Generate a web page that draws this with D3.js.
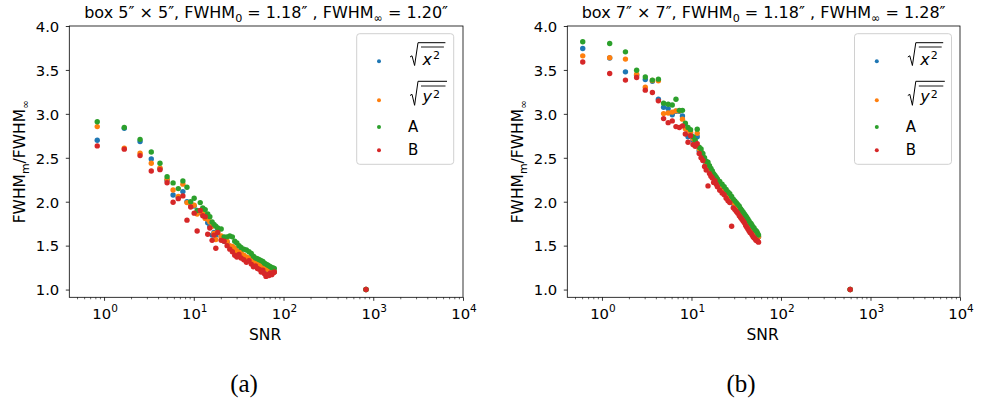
<!DOCTYPE html>
<html><head><meta charset="utf-8">
<script src="https://cdn.jsdelivr.net/npm/d3@7"></script>
<style>body{margin:0;background:#fff} svg text{font-family:"DejaVu Sans",sans-serif}</style>
</head><body><svg id="c" width="981" height="405"></svg>
<script>
// ---------- data ----------
const seriesLabels = ["x2", "y2", "A", "B"];
const seriesColors = ["#1f77b4", "#ff7f0e", "#2ca02c", "#d62728"];
const yTickValues = [1.0, 1.5, 2.0, 2.5, 3.0, 3.5, 4.0];
const xMajorTicks = [1, 10, 100, 1000, 10000];
const xTickExponents = ["0", "1", "2", "3", "4"];

// panel (a): box 5" x 5"
const snrA = [0.84,1.68,2.52,3.36,4.2,5.04,5.88,6.72,7.56,8.4,9.24,10.1,10.9,11.8,12.6,13.4,14.3,15.1,16.0,16.8,17.6,18.5,20.2,21.8,23.5,25.2,26.9,28.6,30.2,31.9,33.6,36.1,38.6,41.2,43.7,46.2,48.7,51.2,53.8,56.3,58.8,61.3,63.8,66.4,68.9,71.4,73.9,76.4,78.9,830];
const rmsXA = [2.70,2.835,2.685,2.487,2.375,2.245,2.077,2.05,2.115,2.0,1.97,1.95,1.87,1.88,1.86,1.85,1.76,1.72,1.62,1.65,1.62,1.68,1.60,1.55,1.54,1.49,1.48,1.46,1.44,1.42,1.41,1.38,1.36,1.35,1.33,1.31,1.30,1.29,1.27,1.26,1.25,1.24,1.23,1.23,1.22,1.21,1.21,1.20,1.20,1.0];
const rmsYA = [2.855,2.61,2.552,2.438,2.385,2.255,2.134,2.06,2.20,1.99,1.98,1.96,1.86,1.89,1.87,1.81,1.80,1.77,1.72,1.64,1.57,1.66,1.61,1.56,1.55,1.50,1.49,1.47,1.44,1.43,1.42,1.39,1.37,1.36,1.34,1.32,1.30,1.29,1.28,1.27,1.26,1.25,1.24,1.23,1.23,1.22,1.21,1.21,1.20,1.0];
const fitAA = [2.91,2.845,2.71,2.565,2.438,2.285,2.214,2.149,2.237,2.165,2.00,2.04,1.90,1.99,1.93,1.91,1.86,1.83,1.77,1.74,1.72,1.70,1.69,1.60,1.60,1.61,1.60,1.55,1.53,1.50,1.48,1.46,1.45,1.43,1.41,1.38,1.36,1.35,1.34,1.33,1.32,1.30,1.29,1.28,1.27,1.26,1.25,1.245,1.24,1.0];
const fitBA = [2.635,2.598,2.525,2.35,2.365,2.215,1.994,2.035,2.066,1.79,1.94,1.87,1.667,1.90,1.84,1.83,1.63,1.70,1.56,1.62,1.47,1.65,1.56,1.55,1.50,1.46,1.43,1.39,1.37,1.40,1.36,1.34,1.31,1.33,1.29,1.26,1.27,1.24,1.23,1.20,1.22,1.18,1.15,1.17,1.16,1.19,1.17,1.19,1.20,1.0];

// panel (b): box 7" x 7"
const snrB = [0.61,1.22,1.83,2.44,3.05,3.66,4.27,4.88,5.49,6.1,6.71,7.32,7.93,8.54,9.15,9.76,10.4,11.0,11.6,12.2,12.8,13.4,14.0,14.6,15.3,15.9,16.5,17.1,17.7,18.3,18.9,19.5,20.7,22.0,23.2,24.4,25.6,26.8,28.1,29.3,30.5,31.7,32.9,34.2,35.4,36.6,37.8,39.0,40.3,41.5,42.7,43.9,45.1,46.4,47.6,48.8,50.0,51.2,52.5,53.7,54.9,56.1,593];
const rmsXB = [3.744,3.635,3.478,3.44,3.39,3.37,3.167,3.076,3.06,2.99,3.03,3.03,2.977,2.86,2.74,2.78,2.70,2.66,2.74,2.58,2.56,2.50,2.46,2.42,2.38,2.37,2.33,2.30,2.28,2.26,2.24,2.22,2.19,2.15,2.12,2.09,2.06,2.04,2.01,1.98,1.96,1.94,1.92,1.90,1.88,1.86,1.84,1.82,1.80,1.78,1.76,1.74,1.72,1.71,1.69,1.68,1.66,1.65,1.63,1.62,1.61,1.60,1.0];
const rmsYB = [3.66,3.64,3.623,3.452,3.304,3.38,3.376,3.003,3.01,3.02,3.034,3.034,2.94,2.83,2.82,2.79,2.72,2.68,2.78,2.60,2.57,2.52,2.47,2.43,2.40,2.38,2.34,2.31,2.29,2.27,2.25,2.23,2.20,2.16,2.14,2.10,2.08,2.05,2.02,1.99,1.97,1.95,1.93,1.91,1.89,1.87,1.85,1.83,1.81,1.79,1.77,1.75,1.73,1.72,1.70,1.69,1.67,1.66,1.64,1.63,1.62,1.60,1.0];
const fitAB = [3.82,3.80,3.706,3.497,3.42,3.384,3.395,3.122,3.11,3.10,3.167,3.04,3.04,2.894,2.844,2.82,2.74,2.70,2.826,2.62,2.60,2.55,2.50,2.46,2.45,2.41,2.38,2.35,2.32,2.30,2.28,2.26,2.23,2.20,2.17,2.14,2.11,2.09,2.06,2.03,2.01,1.99,1.97,1.95,1.92,1.90,1.88,1.86,1.84,1.82,1.80,1.78,1.76,1.75,1.73,1.71,1.70,1.68,1.67,1.66,1.64,1.62,1.0];
const fitBB = [3.59,3.46,3.384,3.414,3.27,3.243,3.148,2.946,2.90,2.92,2.855,2.844,2.863,2.77,2.677,2.75,2.65,2.63,2.66,2.55,2.50,2.47,2.40,2.36,2.18,2.32,2.29,2.27,2.22,2.24,2.20,2.17,2.13,2.10,2.08,2.04,2.01,1.99,1.72,1.93,1.91,1.89,1.87,1.84,1.82,1.80,1.78,1.76,1.73,1.71,1.69,1.67,1.65,1.64,1.62,1.60,1.59,1.58,1.56,1.56,1.55,1.54,1.0];

const titleA = [["box 5″ × 5″, FWHM","n"],["0","sub"],[" = 1.18″ , FWHM","n"],["∞","sub"],[" = 1.20″","n"]];
const titleB = [["box 7″ × 7″, FWHM","n"],["0","sub"],[" = 1.18″ , FWHM","n"],["∞","sub"],[" = 1.28″","n"]];
const yLabelParts = [["FWHM","n"],["m","sub"],["/FWHM","n"],["∞","sub"]];
const xLabelText = "SNR";

// ---------- drawing ----------
const svg = d3.select("#c");
svg.append("rect").attr("width",981).attr("height",405).attr("fill","#fff");

function richText(sel, parts, size) {
  let prevSub = false;
  parts.forEach(([t, m]) => {
    if (m === "sub") {
      sel.append("tspan").attr("dy", size*0.22).attr("font-size", size*0.7).text(t);
      prevSub = true;
    } else {
      sel.append("tspan").attr("dy", prevSub ? -size*0.22 : 0).text(t);
      prevSub = false;
    }
  });
}

function drawPanel(cfg) {
  const g = svg.append("g");
  const x = d3.scaleLog().domain([0.41, 10000]).range([cfg.left, cfg.right]);
  const y = d3.scaleLinear().domain([0.912, 4.0]).range([cfg.bottom, cfg.top]);

  // scatter
  cfg.series.forEach((vals, si) => {
    g.append("g").selectAll("circle")
      .data(cfg.snr.map((s, i) => ({s, v: vals[i]})))
      .join("circle")
      .attr("cx", d => x(d.s)).attr("cy", d => y(d.v))
      .attr("r", 2.7).attr("fill", seriesColors[si]);
  });

  // minor x ticks
  const minors = x.ticks().filter(t => xMajorTicks.indexOf(t) < 0 && t >= 0.41);
  g.append("g").attr("transform", `translate(0,${cfg.bottom})`)
    .call(d3.axisBottom(x).tickValues(minors).tickSize(2).tickFormat(() => ""))
    .call(a => a.select(".domain").remove())
    .call(a => a.selectAll("line").attr("stroke", "#000").attr("stroke-width", 0.6));
  // major x ticks
  const xa = g.append("g").attr("transform", `translate(0,${cfg.bottom})`)
    .call(d3.axisBottom(x).tickValues(xMajorTicks).tickSize(3.5).tickFormat(() => ""));
  xa.select(".domain").remove();
  xa.selectAll("line").attr("stroke", "#000").attr("stroke-width", 0.8);
  xMajorTicks.forEach((t, i) => {
    const tx = g.append("text").attr("x", x(t) + 1).attr("y", cfg.bottom + 21.3)
      .attr("text-anchor", "middle").attr("font-size", 14.8).attr("fill", "#000");
    tx.append("tspan").text("10");
    tx.append("tspan").attr("dy", -6.5).attr("font-size", 10.5).text(xTickExponents[i]);
  });

  // y axis
  const ya = g.append("g").attr("transform", `translate(${cfg.left},0)`)
    .call(d3.axisLeft(y).tickValues(yTickValues).tickSize(3.5).tickFormat(d3.format(".1f")));
  ya.select(".domain").remove();
  ya.selectAll("line").attr("stroke", "#000").attr("stroke-width", 0.8);
  ya.selectAll("text").attr("font-size", 14.8).attr("font-family", "DejaVu Sans")
    .attr("fill", "#000").attr("x", -10).attr("dy", "0.36em");

  // frame
  g.append("rect").attr("x", cfg.left).attr("y", cfg.top)
    .attr("width", cfg.right - cfg.left).attr("height", cfg.bottom - cfg.top)
    .attr("fill", "none").attr("stroke", "#000").attr("stroke-width", 0.8);

  // title
  const tt = g.append("text").attr("x", (cfg.left + cfg.right) / 2).attr("y", 18.3)
    .attr("text-anchor", "middle").attr("font-size", 16).attr("fill", "#000");
  richText(tt, cfg.title, 16);

  // x label
  g.append("text").attr("x", (cfg.left + cfg.right) / 2 - 1).attr("y", 339.5)
    .attr("text-anchor", "middle").attr("font-size", 15.5).attr("fill", "#000").text(xLabelText);

  // y label
  const yl = g.append("text")
    .attr("transform", `translate(${cfg.left - 44},${(cfg.top + cfg.bottom) / 2}) rotate(-90)`)
    .attr("text-anchor", "middle").attr("font-size", 15.5).attr("fill", "#000");
  richText(yl, yLabelParts, 15.5);

  // panel tag
  g.append("text").attr("x", cfg.tagX).attr("y", 392).attr("text-anchor", "middle")
    .style("font-family", "'Liberation Serif', serif")
    .attr("font-size", 25).attr("fill", "#000").text(cfg.tag);

  // legend
  const lx = cfg.legendX;
  const lg = g.append("g");
  lg.append("rect").attr("x", lx).attr("y", 33.7).attr("width", 97).attr("height", 130.6)
    .attr("rx", 3).attr("fill", "#fff").attr("fill-opacity", 0.8)
    .attr("stroke", "#d0d0d0").attr("stroke-width", 1);
  const rowY = [61.3, 100.3, 127, 150.3];
  const mx = lx + 22.3, tx0 = lx + 53.3;
  seriesLabels.forEach((lab, i) => {
    lg.append("circle").attr("cx", mx).attr("cy", rowY[i]).attr("r", 2).attr("fill", seriesColors[i]);
  });
  // sqrt(overline{x^2})
  const sq = [
    {letter: "x", top: 42.7, bottom: 65.5, start: 57, over: 47, base: 65.3, sup: 58.6, end: 35.4},
    {letter: "y", top: 81.3, bottom: 105.3, start: 95.5, over: 86, base: 102, sup: 97.5, end: 37}
  ];
  sq.forEach(o => {
    lg.append("path")
      .attr("d", `M${tx0},${o.start} L${tx0 + 2},${o.start - 1.2} L${tx0 + 4.6},${o.bottom} L${tx0 + 8},${o.top} L${tx0 + o.end},${o.top}`)
      .attr("fill", "none").attr("stroke", "#000").attr("stroke-width", 1);
    lg.append("path").attr("d", `M${tx0 + 11},${o.over} L${tx0 + o.end - 1.5},${o.over}`)
      .attr("stroke", "#000").attr("stroke-width", 0.9);
    lg.append("text").attr("x", tx0 + 12.5).attr("y", o.base)
      .attr("font-size", 16).attr("font-style", "italic").attr("fill", "#000").text(o.letter);
    lg.append("text").attr("x", tx0 + 23).attr("y", o.sup).attr("font-size", 11)
      .attr("fill", "#000").text("2");
  });
  lg.append("text").attr("x", tx0 - 2).attr("y", 132).attr("font-size", 15).attr("fill", "#000").text("A");
  lg.append("text").attr("x", tx0 - 2).attr("y", 154.6).attr("font-size", 15).attr("fill", "#000").text("B");
}

drawPanel({left: 69.3, right: 463, top: 26, bottom: 297.3, snr: snrA,
  series: [rmsXA, rmsYA, fitAA, fitBA], title: titleA, tag: "(a)", tagX: 244, legendX: 356.7});
drawPanel({left: 567.3, right: 960, top: 26, bottom: 297.3, snr: snrB,
  series: [rmsXB, rmsYB, fitAB, fitBB], title: titleB, tag: "(b)", tagX: 741, legendX: 854.5});
</script></body></html>
